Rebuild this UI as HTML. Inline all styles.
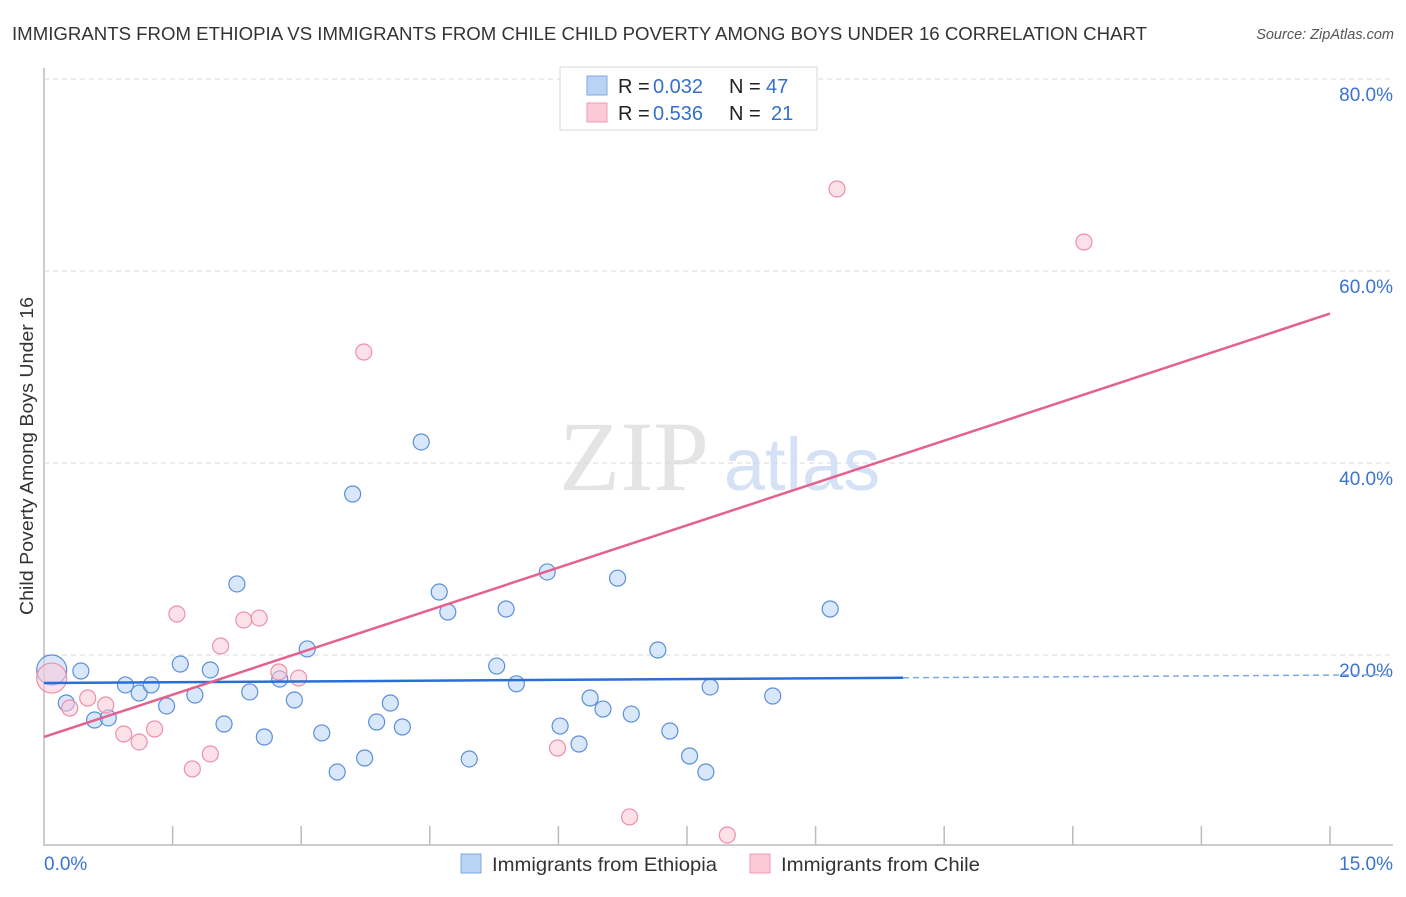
<!DOCTYPE html>
<html><head><meta charset="utf-8"><style>
body{margin:0;background:#fff;font-family:"Liberation Sans",sans-serif;}
svg text{font-family:"Liberation Sans",sans-serif;}
</style></head><body>
<svg id="chart" width="1406" height="892" viewBox="0 0 1406 892" xmlns="http://www.w3.org/2000/svg">
<text x="12" y="40" font-size="18" textLength="1135" lengthAdjust="spacingAndGlyphs" fill="#333">IMMIGRANTS FROM ETHIOPIA VS IMMIGRANTS FROM CHILE CHILD POVERTY AMONG BOYS UNDER 16 CORRELATION CHART</text>
<text x="1394" y="39" font-size="14.5" fill="#555" font-style="italic" text-anchor="end">Source: ZipAtlas.com</text>
<g><text x="634" y="490" font-size="100" fill="#e4e4e4" text-anchor="middle" style="font-family:'Liberation Serif',serif">ZIP</text><text x="802" y="490" font-size="74" fill="#d5e2f5" text-anchor="middle">atlas</text></g>
<g id="grid"></g><g id="axes"></g><g id="marks"></g>
<text transform="translate(33,456) rotate(-90)" font-size="18" textLength="318" lengthAdjust="spacingAndGlyphs" fill="#333" text-anchor="middle">Child Poverty Among Boys Under 16</text>
<g>
<rect x="560" y="67" width="257" height="63" fill="#fff" stroke="#d8d8d8"/>
<rect x="587" y="76" width="20" height="19" fill="#b9d3f5" stroke="#7ea8e0"/>
<rect x="587" y="103" width="20" height="19" fill="#fbc9d7" stroke="#ef9bb3"/>
<text x="618" y="93" font-size="20" fill="#222">R =</text>
<text x="653" y="93" font-size="20" fill="#3370cc">0.032</text>
<text x="729" y="93" font-size="20" fill="#222">N =</text>
<text x="766" y="93" font-size="20" fill="#3370cc">47</text>
<text x="618" y="120" font-size="20" fill="#222">R =</text>
<text x="653" y="120" font-size="20" fill="#3370cc">0.536</text>
<text x="729" y="120" font-size="20" fill="#222">N =</text>
<text x="771" y="120" font-size="20" fill="#3370cc">21</text>
</g>
<g>
<rect x="461" y="854" width="20" height="19" fill="#b9d3f5" stroke="#7ea8e0"/>
<text x="492" y="871" font-size="19.5" textLength="225" lengthAdjust="spacingAndGlyphs" fill="#333">Immigrants from Ethiopia</text>
<rect x="750" y="854" width="20" height="19" fill="#fbc9d7" stroke="#ef9bb3"/>
<text x="781" y="871" font-size="19.5" textLength="199" lengthAdjust="spacingAndGlyphs" fill="#333">Immigrants from Chile</text>
</g>
</svg>
<script>
const blueX=[0.09,0.43,0.26,0.59,0.75,0.95,1.11,1.25,1.43,1.59,1.76,1.94,2.10,2.25,2.40,2.57,2.75,2.92,3.07,3.24,3.42,3.60,3.74,3.88,4.04,4.18,4.40,4.61,4.71,4.96,5.28,5.39,5.51,5.87,6.02,6.24,6.37,6.52,6.69,6.85,7.16,7.30,7.53,7.72,7.77,8.50,9.17];
const blueY=[18.44,18.33,15.0,13.23,13.44,16.88,16.04,16.88,14.69,19.06,15.83,18.44,12.81,27.4,16.15,11.46,17.5,15.31,20.63,11.88,7.81,36.77,9.27,13.02,15.0,12.5,42.19,26.56,24.48,9.17,18.85,24.79,17.0,28.65,12.6,10.73,15.52,14.37,28.0,13.85,20.52,12.08,9.48,7.81,16.67,15.73,24.79];
const pinkX=[0.09,0.30,0.51,0.72,0.93,1.11,1.29,1.55,1.73,1.94,2.06,2.33,2.51,2.74,2.97,3.73,5.99,6.83,7.97,9.25,12.13];
const pinkY=[17.6,14.48,15.52,14.79,11.77,10.94,12.29,24.27,8.13,9.69,20.94,23.65,23.85,18.23,17.6,51.56,10.31,3.13,1.25,68.54,63.02];
const blueLine=[17.08,0.055];
const pinkLine=[11.46,2.94];
const yTicks=[20,40,60,80];
const yTickLabels=["20.0%","40.0%","60.0%","80.0%"];
const xTicks=[0,1.5,3,4.5,6,7.5,9,10.5,12,13.5,15];
const NS="http://www.w3.org/2000/svg";
const sx=v=>44+v*1286/15, sy=v=>847-v*9.6;
function mk(p,t,a){const e=document.createElementNS(NS,t);for(const k in a)e.setAttribute(k,a[k]);document.getElementById(p).appendChild(e);return e;}
yTicks.forEach((t,i)=>{const g=mk('grid','line',{x1:44,x2:1393,y1:sy(t),y2:sy(t),stroke:'#d9d9d9','stroke-dasharray':'5,4'});


const l=mk('axes','text',{x:1393,y:sy(t)+22,'font-size':19,fill:'#3a74cf','text-anchor':'end'});l.textContent=yTickLabels[i];

});
const ax=mk('axes','path',{d:'M44,68 V845 H1393',fill:'none',stroke:'#bbb','stroke-width':1.5});


xTicks.forEach(t=>{if(t===0)return;const e=mk('axes','line',{x1:sx(t),x2:sx(t),y1:826,y2:845,stroke:'#bbb','stroke-width':1.5});

});
const xl0=mk('axes','text',{x:44,y:870,'font-size':19,fill:'#3a74cf'});xl0.textContent='0.0%';


const xl1=mk('axes','text',{x:1393,y:870,'font-size':19,fill:'#3a74cf','text-anchor':'end'});xl1.textContent='15.0%';


function dots(X,Y,fill,stroke,name){X.forEach((x,i)=>{const c=mk('marks','circle',{cx:sx(x),cy:sy(Y[i]),r:i===0?15:8,fill:fill,'fill-opacity':0.55,stroke:stroke,'stroke-width':1.2});

});}
dots(blueX,blueY,'#b9d3f5','#5b8fd9','point-ethiopia');
dots(pinkX,pinkY,'#fbc9d7','#ec8fab','point-chile');
const bl=mk('marks','line',{x1:sx(0),y1:sy(blueLine[0]),x2:sx(10.02),y2:sy(blueLine[0]+blueLine[1]*10.02),stroke:'#2a6fd6','stroke-width':2.5});


const bd=mk('marks','line',{x1:sx(10.02),y1:sy(blueLine[0]+blueLine[1]*10.02),x2:1393,y2:sy(blueLine[0]+blueLine[1]*15.74),stroke:'#7ea8e0','stroke-width':1.5,'stroke-dasharray':'6,4'});


const pl=mk('marks','line',{x1:sx(0),y1:sy(pinkLine[0]),x2:sx(15),y2:sy(pinkLine[0]+pinkLine[1]*15),stroke:'#e4618e','stroke-width':2.5});


</script>
</body></html>
